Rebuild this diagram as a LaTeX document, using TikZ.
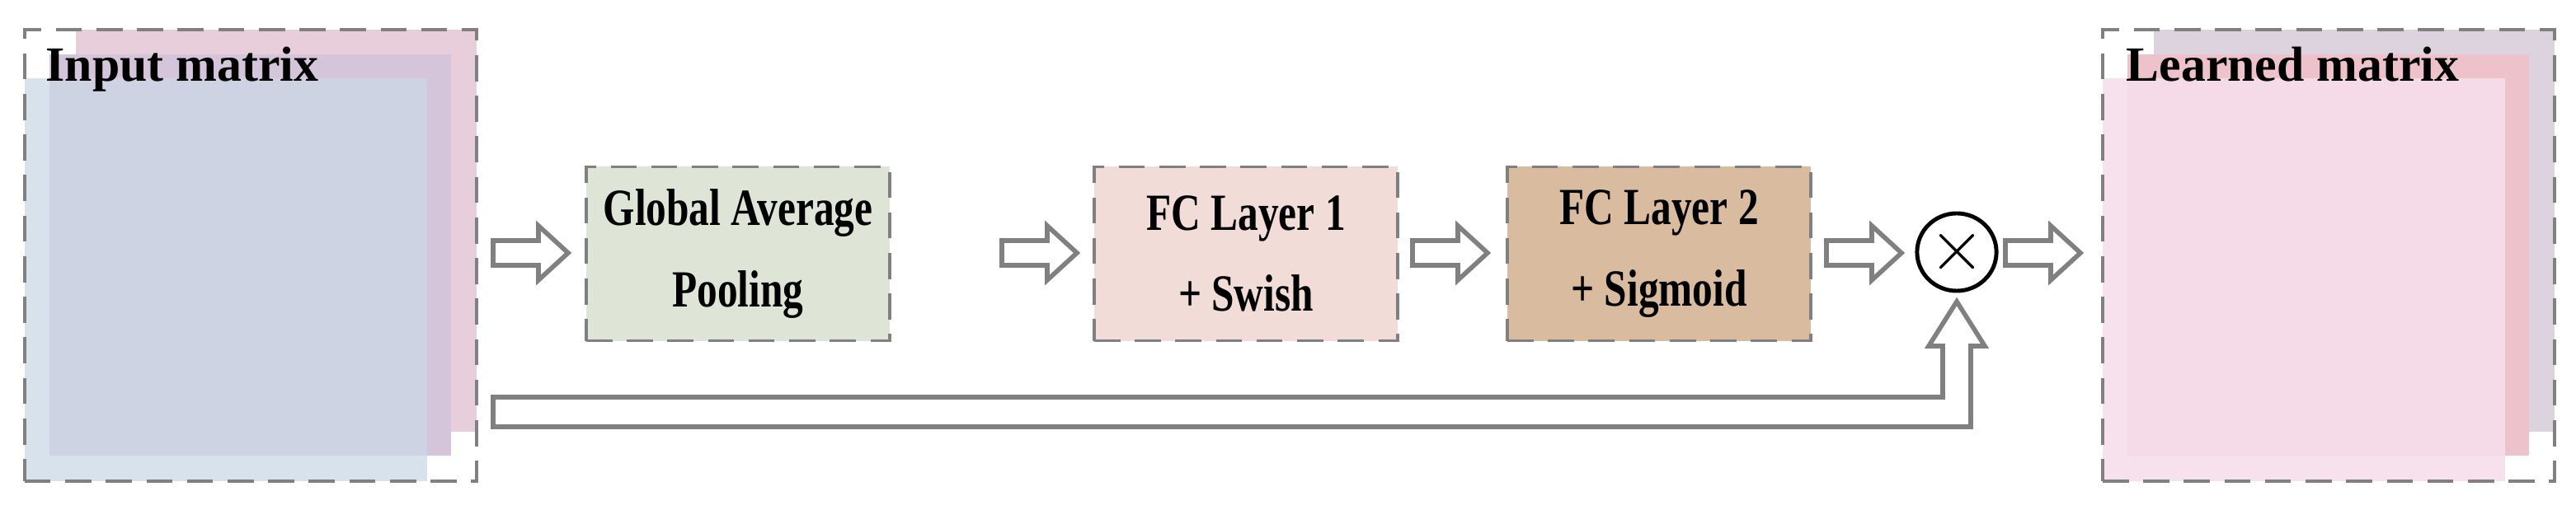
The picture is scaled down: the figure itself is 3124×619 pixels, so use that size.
\documentclass[tikz,border=0pt]{standalone}
\usepackage{fontspec}
\setmainfont{Liberation Serif}
\newfontfamily\condserif{Liberation Serif}[FakeStretch=0.78]
\usetikzlibrary{shapes.geometric}
\begin{document}
\begin{tikzpicture}[x=0.01cm,y=-0.01cm,
  frame/.style={draw=black!50,line width=1pt,dash pattern=on 9pt off 5pt},
  blk/.style={frame,minimum width=3.68cm,minimum height=2.11cm,align=center,font=\condserif\fontsize{18}{22}\selectfont\bfseries,inner sep=0pt},
  barrow/.style={draw=black!50,line width=1.6pt,fill=white},
  ttl/.style={anchor=base west,font=\fontsize{17}{20}\selectfont\bfseries,inner sep=0pt}]
\useasboundingbox (0,0) rectangle (3124,619);
\definecolor{lback}{HTML}{E8CDDB}\definecolor{lmid}{HTML}{D5C5DA}\definecolor{lfront}{HTML}{CBD8E6}
\definecolor{rback}{HTML}{DDD3DF}\definecolor{rmid}{HTML}{EEC2CA}\definecolor{rfront}{HTML}{F6DEEA}
\definecolor{cgap}{HTML}{DFE5D6}\definecolor{cfca}{HTML}{F2DCD8}\definecolor{cfcb}{HTML}{D9BBA0}
% left matrix
\fill[lback] (92,36) rectangle (578,524);
\fill[lmid] (60,66) rectangle (547,553);
\fill[lfront,opacity=0.75] (30,95) rectangle (518,584);
\node[frame,minimum width=5.48cm,minimum height=5.48cm,inner sep=0pt] (in) at (304,310) {};
\node[ttl] (intxt) at (55,99) {Input matrix};
% right matrix
\fill[rback] (2612,36) rectangle (3098,524);
\fill[rmid] (2580,66) rectangle (3067,553);
\fill[rfront,opacity=0.92] (2550,95) rectangle (3038,584);
\node[frame,minimum width=5.48cm,minimum height=5.48cm,inner sep=0pt] (out) at (2824,310) {};
\node[ttl] (outtxt) at (2578,99) {Learned matrix};
% blocks
\node[blk,fill=cgap] (gap) at (895,308) {Global Average\\[6pt]Pooling};
\node[blk,fill=cfca] (fc1) at (1511,308) {FC Layer 1\\[6pt]+ Swish};
\node[blk,fill=cfcb] (fc2) at (2012,308) {FC Layer 2\\[6pt]+ Sigmoid};
\node[draw,line width=1.4pt,ellipse,minimum width=0.8cm,minimum height=0.94cm,inner sep=0pt,font=\fontsize{26}{26}\selectfont] (mul) at (2373,306) {$\times$};
% block arrows
\foreach \x in {598,1215,1713,2215,2432}{
  \draw[barrow] (\x,292) -- ++(55,0) -- ++(0,-18) -- ++(36,33) -- ++(-36,33) -- ++(0,-18) -- ++(-55,0) -- cycle;
}
% skip connection
\draw[barrow] (598,482) -- (2356,482) -- (2356,420) -- (2339,420) -- (2373,366) -- (2407,420) -- (2390,420) -- (2390,518) -- (598,518) -- cycle;
\end{tikzpicture}
\end{document}
